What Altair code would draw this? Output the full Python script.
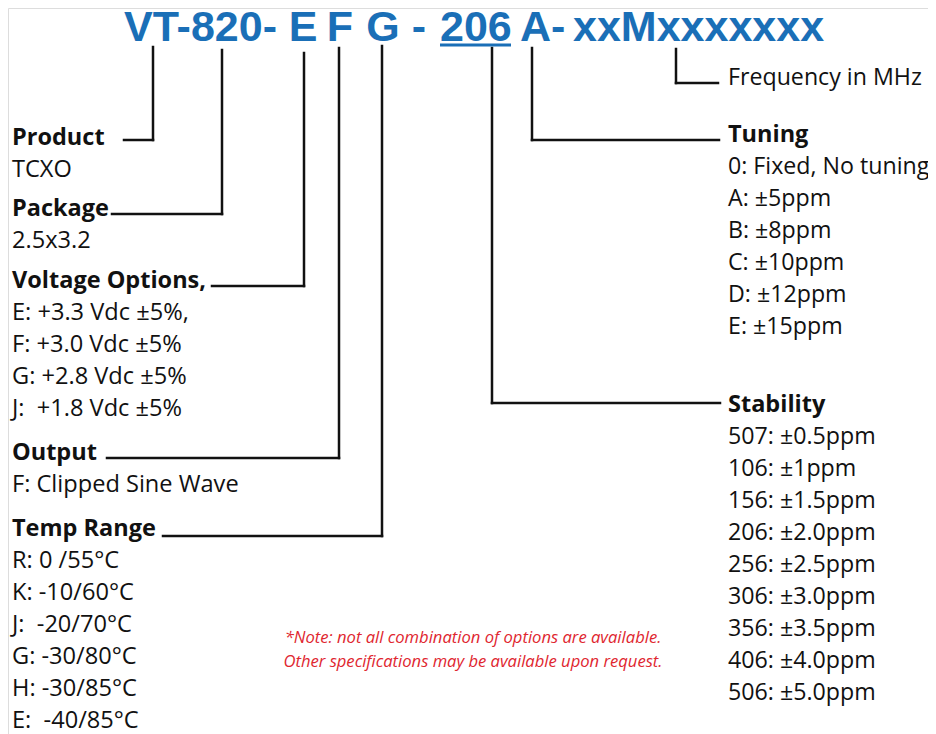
import altair as alt
import pandas as pd

# ---------------- data (text content) ----------------
code_parts = ["VT-820-", "E", "F", "G", "-", "206", "A-", "xxMxxxxxxx"]

NB = "\u00a0"
left_headers = ["Product", "Package", "Voltage Options,", "Output", "Temp Range"]
left_items = [
    ["TCXO"],
    ["2.5x3.2"],
    ["E: +3.3 Vdc \u00b15%,", "F: +3.0 Vdc \u00b15%", "G: +2.8 Vdc \u00b15%", "J:" + NB + NB + "+1.8 Vdc \u00b15%"],
    ["F: Clipped Sine Wave"],
    ["R: 0 /55\u00b0C", "K: -10/60\u00b0C", "J:" + NB + NB + "-20/70\u00b0C", "G: -30/80\u00b0C",
     "H: -30/85\u00b0C", "E:" + NB + NB + "-40/85\u00b0C"],
]
right_headers = ["Tuning", "Stability"]
right_items = [
    ["0: Fixed, No tuning", "A: \u00b15ppm", "B: \u00b18ppm", "C: \u00b110ppm", "D: \u00b112ppm", "E: \u00b115ppm"],
    ["507: \u00b10.5ppm", "106: \u00b11ppm", "156: \u00b11.5ppm", "206: \u00b12.0ppm", "256: \u00b12.5ppm",
     "306: \u00b13.0ppm", "356: \u00b13.5ppm", "406: \u00b14.0ppm", "506: \u00b15.0ppm"],
]
freq_label = "Frequency in MHz"
note_lines = ["*Note: not all combination of options are available.",
              "Other specifications may be available upon request."]

# ---------------- layout ----------------
BLUE = "#1a6fb7"
RED = "#e0262f"
LINE = 32
code_x = [124, 303, 340, 383, 419, 440, 520, 573]
code_align = ["left", "center", "center", "center", "center", "left", "left", "left"]
code_y = 41
left_header_y = [145, 216, 288, 460, 536]
left_x = 12
right_header_y = [142, 412]
right_x = 728

rows_code = pd.DataFrame({"t": code_parts, "x": code_x, "y": [code_y] * len(code_parts), "a": code_align})

hdr = []
body_l = []
body_r = []
for h, yy, items in zip(left_headers, left_header_y, left_items):
    hdr.append({"t": h, "x": left_x, "y": yy})
    for i, it in enumerate(items):
        body_l.append({"t": it, "x": left_x, "y": yy + LINE * (i + 1)})
for h, yy, items in zip(right_headers, right_header_y, right_items):
    hdr.append({"t": h, "x": right_x, "y": yy})
    for i, it in enumerate(items):
        body_r.append({"t": it, "x": right_x, "y": yy + LINE * (i + 1)})
body_r.append({"t": freq_label, "x": 728, "y": 85})
hdr_df = pd.DataFrame(hdr)
body_l_df = pd.DataFrame(body_l)
body_r_df = pd.DataFrame(body_r)
note_df = pd.DataFrame({"t": note_lines, "x": [473, 473], "y": [643, 667]})

# connector segments (x, y, x2, y2)
segs = [
    (153, 47, 153, 140), (124, 140, 153, 140),     # Product
    (222, 50, 222, 214), (112, 214, 222, 214),     # Package
    (304, 53, 304, 286), (212, 286, 304, 286),     # Voltage
    (339, 48, 339, 458), (107, 458, 339, 458),     # Output
    (382, 46, 382, 536), (163, 536, 382, 536),     # Temp
    (492, 48, 492, 403), (492, 403, 720, 403),     # Stability
    (532, 48, 532, 140), (532, 140, 719, 140),     # Tuning
    (676, 49, 676, 83), (676, 83, 718, 83),        # Frequency
]
seg_df = pd.DataFrame(segs, columns=["x", "y", "x2", "y2"])
underline_df = pd.DataFrame({"x": [440], "x2": [511], "y": [45], "y2": [45]})

W, H = 920, 726
xs = alt.Scale(domain=[8, 8 + W], nice=False, zero=False)
ys = alt.Scale(domain=[8, 8 + H], reverse=True, nice=False, zero=False)
X = alt.X("x:Q", scale=xs, axis=None)
Y = alt.Y("y:Q", scale=ys, axis=None)

rules = alt.Chart(seg_df).mark_rule(color="#111111", strokeWidth=2.5, strokeCap="square").encode(
    x=X, y=Y, x2="x2:Q", y2="y2:Q")
underline = alt.Chart(underline_df).mark_rule(color=BLUE, strokeWidth=3).encode(
    x=X, y=Y, x2="x2:Q", y2="y2:Q")

code_layers = []
for al in ["left", "center"]:
    code_layers.append(
        alt.Chart(rows_code).transform_filter(alt.datum.a == al).mark_text(
            font="Liberation Sans", fontWeight="bold", fontSize=43, color=BLUE,
            align=al, baseline="alphabetic").encode(x=X, y=Y, text="t:N"))

headers = alt.Chart(hdr_df).mark_text(
    font="Open Sans", fontWeight="bold", fontSize=23.5, color="#111111",
    align="left", baseline="alphabetic").encode(x=X, y=Y, text="t:N")
bodies_l = alt.Chart(body_l_df).mark_text(
    font="Open Sans", fontSize=23.6, color="#111111",
    align="left", baseline="alphabetic").encode(x=X, y=Y, text="t:N")
bodies_r = alt.Chart(body_r_df).mark_text(
    font="Open Sans", fontSize=23.2, color="#111111",
    align="left", baseline="alphabetic").encode(x=X, y=Y, text="t:N")
notes = alt.Chart(note_df).mark_text(
    font="Open Sans", fontStyle="italic", fontSize=16.6, color=RED,
    align="center", baseline="alphabetic").encode(x=X, y=Y, text="t:N")

chart = alt.layer(rules, underline, *code_layers, headers, bodies_l, bodies_r, notes).properties(
    width=W, height=H, padding=0, autosize=alt.AutoSizeParams(type="none")
).configure_view(stroke=None).configure(background="white")

chart.save("out.html", embed_options={"renderer": "svg", "actions": False})
